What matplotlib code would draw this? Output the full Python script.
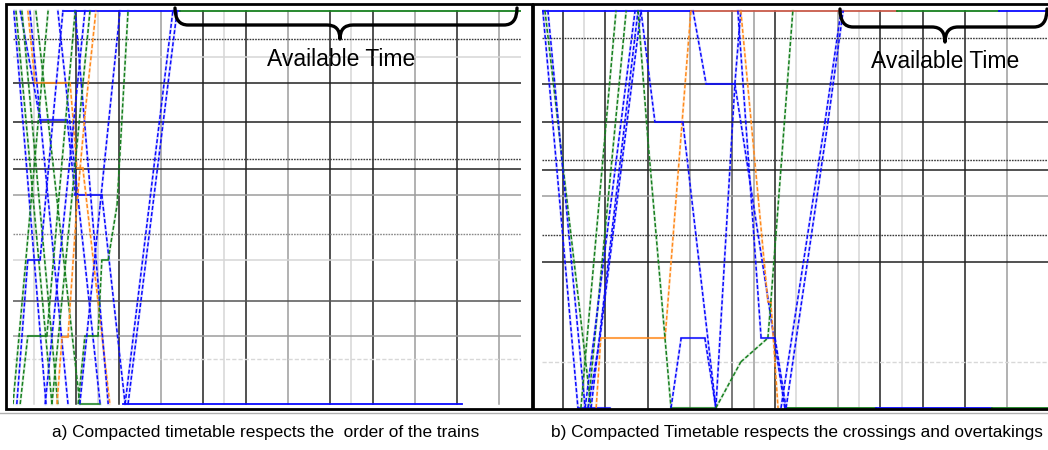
import numpy as np
import matplotlib.pyplot as plt
from matplotlib.patches import Rectangle, PathPatch
from matplotlib.path import Path

plt.rcParams['font.family'] = ['Liberation Sans', 'DejaVu Sans']

BLUE = '#0a0aff'
GREEN = '#17801f'
ORANGE = '#ff8a1c'
RED = '#c85a4a'

# ---- stations (distance, km) and their grid style ----
left_st = [92.9, 88.3, 81.7, 71.8, 62.3, 59.8, 53.2, 43.3, 36.6, 26.2, 17.3, 11.5]
left_st_kind = ['dot', 'light', 'major', 'major', 'dot', 'major', 'gray', 'dotgray', 'light', 'dark', 'gray', 'dotlight']
right_st = [93.2, 81.6, 72.0, 62.5, 59.9, 53.4, 43.6, 36.8, 11.6]
right_st_kind = ['dot', 'major', 'major', 'dot', 'major', 'gray', 'dot', 'major', 'dotlight']

# ---- time grid (hours) ----
left_tg = [0.5, 1.5, 2.0, 2.5, 3.5, 4.5, 5.0, 5.5, 6.5, 7.5, 8.0, 8.5, 9.5, 10.5, 11.5]
left_tg_kind = ['light', 'major', 'light', 'major', 'gray', 'major', 'light', 'major', 'gray', 'major', 'light', 'major', 'gray', 'major', 'gray']
right_tg = [0.5, 1.0, 1.5, 2.5, 3.5, 4.5, 5.0, 5.5, 6.0, 7.0, 7.5, 8.0, 8.5, 9.0, 10.0, 11.0]
right_tg_kind = ['major', 'light', 'major', 'major', 'gray', 'dark', 'gray', 'major', 'light', 'gray', 'light', 'major', 'light', 'major', 'major', 'gray']

# ---- trains: colour, times, distances ----
left_colors = [BLUE, GREEN, BLUE, GREEN, ORANGE, BLUE, GREEN, BLUE, BLUE,
               GREEN, BLUE, GREEN, ORANGE, GREEN, BLUE, BLUE, BLUE, BLUE, GREEN]
left_times = [
    [0.02, 0.78],
    [0.07, 0.92],
    [0.17, 0.64, 1.28, 1.47, 2.10, 2.65],
    [0.21, 1.06],
    [0.35, 0.52, 1.35, 1.51, 1.65, 2.01, 2.29],
    [0.40, 1.30],
    [0.54, 1.58, 2.06],
    [1.06, 2.06],
    [1.47, 2.25],
    [0.00, 0.83],
    [0.09, 0.35, 0.64, 1.18],
    [0.17, 0.35, 0.80, 1.47],
    [1.04, 1.16, 1.30, 1.51, 1.70, 1.96],
    [1.54, 1.70, 2.01, 2.10, 2.25, 2.46, 2.72],
    [1.58, 2.06, 2.53],
    [2.65, 3.78],
    [2.72, 3.88],
    [0.76, 1.70],
    [0.92, 1.82],
]
left_dists = [
    [100, 0],
    [100, 0],
    [100, 72.3, 72.3, 53.2, 53.2, 0],
    [100, 0],
    [100, 81.7, 81.7, 60.1, 60.1, 26.0, 0],
    [100, 0],
    [100, 0, 0],
    [100, 0],
    [100, 0],
    [0, 100],
    [0, 36.6, 36.6, 100],
    [0, 17.3, 17.3, 100],
    [0, 17.0, 17.0, 50.6, 73.5, 100],
    [0, 17.3, 17.3, 36.6, 36.6, 50.6, 100],
    [0, 50.6, 100],
    [0, 100],
    [0, 100],
    [0, 100],
    [0, 100],
]

right_colors = [BLUE, GREEN, BLUE, GREEN, GREEN, BLUE, BLUE, BLUE, ORANGE, GREEN,
                BLUE, BLUE, BLUE, BLUE, ORANGE, GREEN, BLUE, BLUE, BLUE]
right_times = [
    [0.02, 0.85, 1.61],
    [0.07, 1.16],
    [0.14, 1.02],
    [0.92, 1.75],
    [1.09, 1.99],
    [1.02, 2.20],
    [1.16, 2.27],
    [1.09, 1.37, 2.34],
    [1.28, 1.39, 2.91, 3.52],
    [2.27, 2.50, 3.05, 4.11],
    [2.34, 2.67, 3.33, 4.11],
    [3.05, 3.29, 3.85, 4.11],
    [3.57, 3.88, 4.56, 5.74],
    [4.11, 4.56, 4.70],
    [4.70, 5.11, 5.34, 5.41, 5.58],
    [4.11, 4.70, 5.34, 5.41, 5.93],
    [4.63, 5.18, 5.51, 5.77],
    [5.65, 6.69, 7.07],
    [5.77, 6.76, 7.12],
]
right_dists = [
    [100, 0, 0],
    [100, 0],
    [100, 0],
    [0, 100],
    [0, 100],
    [0, 100],
    [0, 100],
    [0, 17.6, 100],
    [0, 17.6, 17.6, 100],
    [100, 68, 0, 0],
    [100, 72, 72, 0],
    [0, 17.6, 17.6, 0],
    [100, 81.6, 81.6, 0],
    [0, 81.6, 100],
    [100, 53.1, 26.7, 26.7, 0],
    [0, 11.6, 17.6, 26.7, 100],
    [100, 17.6, 17.6, 0],
    [0, 72, 100],
    [0, 72, 100],
]

# terminal occupation (start, end, distance, colour)
left_term = [(1.18, 3.95, 100, BLUE), (3.95, 12, 100, GREEN), (2.60, 10.61, 0, BLUE)]
right_term = [(0, 3.52, 100, BLUE), (3.52, 8.4, 100, RED), (8.4, 10.8, 100, GREEN),
              (10.8, 12, 100, BLUE), (5.74, 7.9, 0, GREEN), (7.9, 10.64, 0, BLUE),
              (10.64, 12, 0, GREEN)]

captions = ['a) Compacted timetable respects the  order of the trains',
            'b) Compacted Timetable respects the crossings and overtakings']

kinds = {
    'major': dict(color='#222222', lw=1.1, ls='-'),
    'dark': dict(color='#555555', lw=1.1, ls='-'),
    'gray': dict(color='#9c9c9c', lw=1.1, ls='-'),
    'light': dict(color='#d6d6d6', lw=1.1, ls='-'),
    'dot': dict(color='#3a3a3a', lw=1.0, ls=(0, (1.2, 0.8))),
    'dotgray': dict(color='#8a8a8a', lw=1.0, ls=(0, (1.2, 0.8))),
    'dotlight': dict(color='#d8d8d8', lw=1.0, ls=(0, (3, 1.5))),
}

W, H = 1048, 450
fig = plt.figure(figsize=(W / 100, H / 100), dpi=100)


def fx(x):
    return x / W


def fy(y):
    return 1 - y / H


def make_ax(x0, ytop, ybot, tpx=42.3):
    pad = (ybot - ytop) / 100
    return fig.add_axes([fx(x0), fy(ybot + pad), 12 * tpx / W, (ybot - ytop + 2 * pad) / H])


def draw_panel(ax, st, st_kind, tg, tg_kind, colors, times, dists, term):
    ax.set_xlim(0, 12)
    ax.set_ylim(-1, 101)
    ax.axis('off')
    for t, k in zip(tg, tg_kind):
        ax.plot([t, t], [0, 100], zorder=1, **kinds[k])
    for s, k in zip(st, st_kind):
        ax.axhline(s, zorder=1, **kinds[k])
    for t0, t1, d, c in term:
        ax.plot([t0, t1], [d, d], color=c, lw=1.3, zorder=3)
    for c, t, d in zip(colors, times, dists):
        t = np.asarray(t, float)
        d = np.asarray(d, float)
        ax.plot(t, d, color=c, lw=1.8, alpha=0.15, zorder=2)
        for i in range(len(t) - 1):
            if d[i] == d[i + 1]:
                ax.plot(t[i:i + 2], d[i:i + 2], color=c, lw=1.1, zorder=4)
            else:
                ax.plot(t[i:i + 2], d[i:i + 2], color=c, lw=1.1, zorder=4,
                        ls=(0, (2.6, 1.4)))


axL = make_ax(13, 10.7, 404)
draw_panel(axL, left_st, left_st_kind, left_tg, left_tg_kind,
           left_colors, left_times, left_dists, left_term)
axR = make_ax(542, 10.7, 408)
draw_panel(axR, right_st, right_st_kind, right_tg, right_tg_kind,
           right_colors, right_times, right_dists, right_term)

# panel frames
for x0, x1 in [(6, 532), (533, 1052)]:
    fig.add_artist(Rectangle((fx(x0), fy(409)), (x1 - x0) / W, (409 - 4) / H,
                             transform=fig.transFigure, fill=False,
                             ec='black', lw=2.0, zorder=10))
fig.add_artist(plt.Line2D([0, 1], [fy(413), fy(413)], transform=fig.transFigure,
                          color='#b0b0b0', lw=1.0))


def brace(x0, x1, xm, ytop, ybar, ytip, r=13):
    verts = [(x0, ytop), (x0, ybar), (x0 + r, ybar), (xm - r, ybar),
             (xm, ybar), (xm, ytip), (xm, ybar), (xm + r, ybar),
             (x1 - r, ybar), (x1, ybar), (x1, ytop)]
    codes = [Path.MOVETO, Path.CURVE3, Path.CURVE3, Path.LINETO,
             Path.CURVE3, Path.CURVE3, Path.CURVE3, Path.CURVE3,
             Path.LINETO, Path.CURVE3, Path.CURVE3]
    verts = [(fx(x), fy(y)) for x, y in verts]
    fig.add_artist(PathPatch(Path(verts, codes), transform=fig.transFigure,
                             fill=False, ec='black', lw=2.4, zorder=11,
                             capstyle='round', joinstyle='round'))


brace(175, 517, 340, 8, 25, 39)
brace(840, 1047, 945, 9, 27, 42)
fig.text(fx(341), fy(60), 'Available Time', fontsize=16.5, ha='center', va='center')
fig.text(fx(945), fy(62), 'Available Time', fontsize=16.5, ha='center', va='center')

fig.text(fx(266), fy(433), captions[0], fontsize=12.4, ha='center', va='center')
fig.text(fx(797), fy(433), captions[1], fontsize=12.4, ha='center', va='center')

fig.savefig('out.png', dpi=100, facecolor='white')
